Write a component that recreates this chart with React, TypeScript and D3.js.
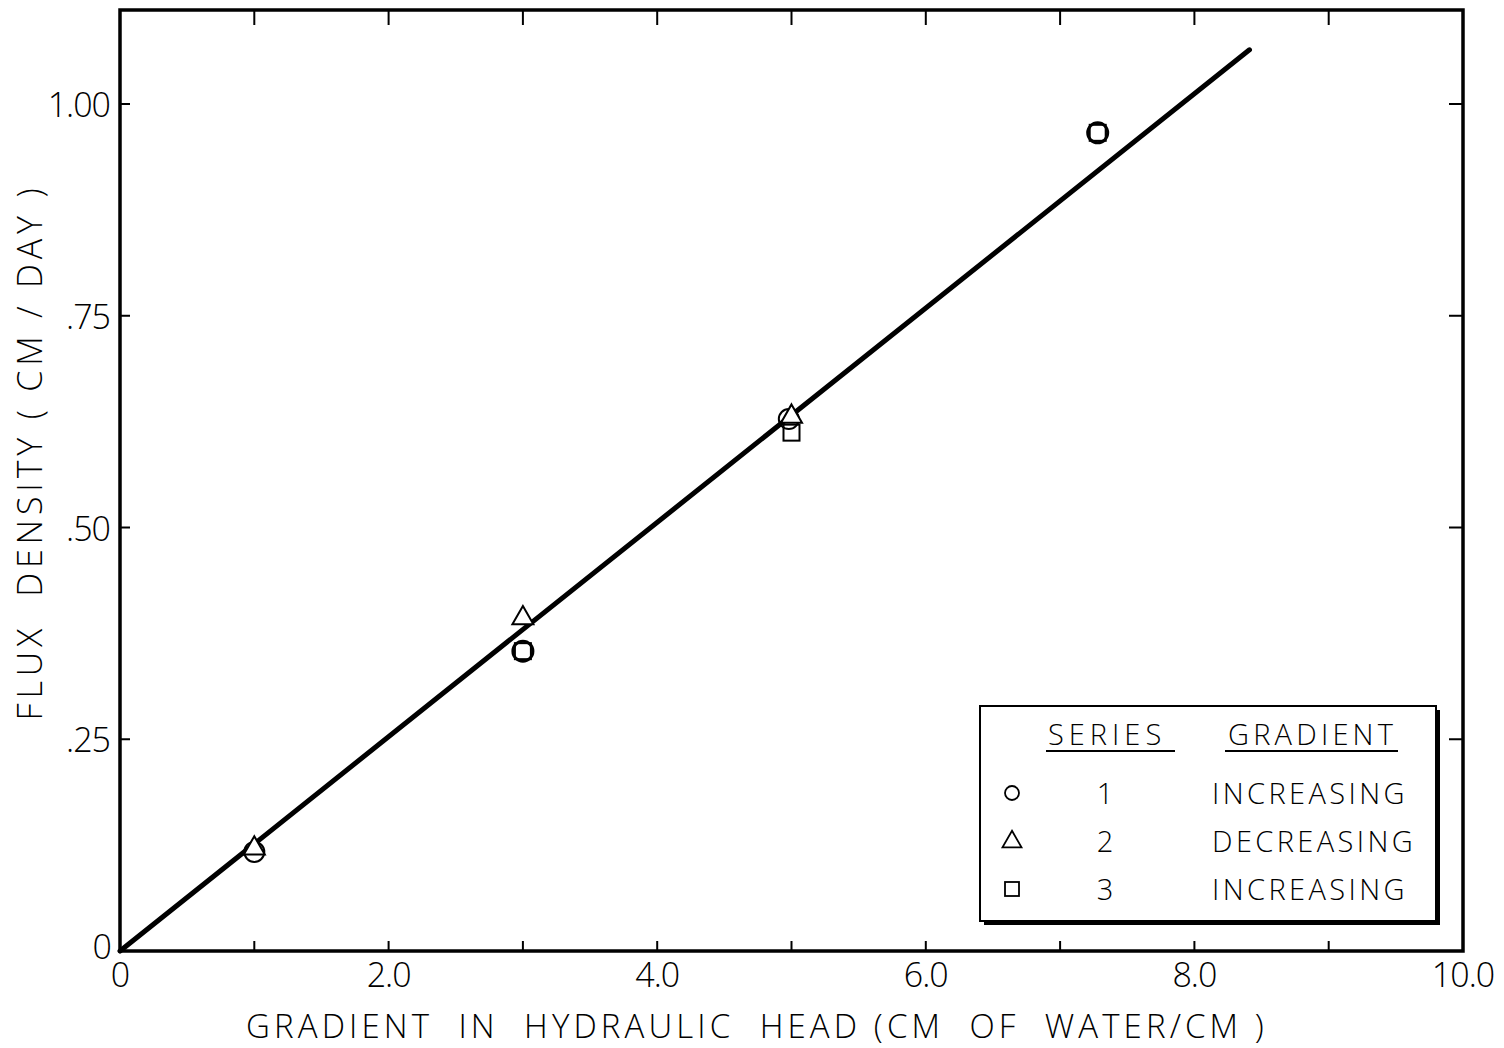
import React from "react";
import * as d3 from "d3";

const circleX = [1.0, 3.0, 4.98, 7.28];
const circleY = [0.117, 0.354, 0.628, 0.966];
const triangleX = [1.0, 3.0, 5.0];
const triangleY = [0.122, 0.394, 0.632];
const squareX = [3.0, 5.0, 7.28];
const squareY = [0.354, 0.612, 0.966];
const fitLine = [[0, 0], [8.41, 1.064]];
const xTicks = [0, 1, 2, 3, 4, 5, 6, 7, 8, 9, 10];
const xTickLabels = ["0", "2.0", "4.0", "6.0", "8.0", "10.0"];
const xLabelValues = [0, 2, 4, 6, 8, 10];
const yTicks = [0, 0.25, 0.5, 0.75, 1.0];
const yTickLabels = ["0", ".25", ".50", ".75", "1.00"];
const legendRows = [
  { sym: "circle", series: "1", grad: "INCREASING" },
  { sym: "triangle", series: "2", grad: "DECREASING" },
  { sym: "square", series: "3", grad: "INCREASING" },
];

const FONT = "'Open Sans', 'DejaVu Sans', sans-serif";
const pre = { whiteSpace: "pre" as const };
const FW = 350;

export default function App() {
  const W = 1504, H = 1048;
  const L = 120, R = 1463, T = 10, B = 951;
  const x = d3.scaleLinear().domain([0, 10]).range([L, R]);
  const y = d3.scaleLinear().domain([0, 1.111]).range([B, T]);
  const line = d3.line<number[]>().x(d => x(d[0])).y(d => y(d[1]));

  const tri = (cx: number, cy: number, s: number) => {
    const h = s * 0.87;
    return `M${cx},${cy - h * 0.62} L${cx + s / 2},${cy + h * 0.38} L${cx - s / 2},${cy + h * 0.38} Z`;
  };

  const marker = (sym: string, cx: number, cy: number, key: string, sw = 2) => {
    if (sym === "circle") return <circle key={key} cx={cx} cy={cy} r={10} fill="none" stroke="#000" strokeWidth={sw} />;
    if (sym === "square") return <rect key={key} x={cx - 8} y={cy - 8} width={16} height={16} fill="none" stroke="#000" strokeWidth={sw} />;
    return <path key={key} d={tri(cx, cy, 21)} fill="#fff" stroke="#000" strokeWidth={sw} strokeLinejoin="miter" />;
  };

  const lx = 980, ly = 706, lw = 456, lh = 215;
  return (
    <svg width={W} height={H} style={{ display: "block", position: "absolute", left: 0, top: 0, background: "#fff" }}>
      <rect x={0} y={0} width={W} height={H} fill="#fff" />
      {/* frame */}
      <rect x={L} y={T} width={R - L} height={B - T} fill="none" stroke="#000" strokeWidth={3.5} />
      {/* ticks */}
      {xTicks.map(t => (
        <g key={"xt" + t}>
          <line x1={x(t)} x2={x(t)} y1={B} y2={B - 10} stroke="#000" strokeWidth={2} />
          <line x1={x(t)} x2={x(t)} y1={T} y2={T + 15} stroke="#000" strokeWidth={2} />
        </g>
      ))}
      {yTicks.map(t => (
        <g key={"yt" + t}>
          <line x1={L} x2={L + 10} y1={y(t)} y2={y(t)} stroke="#000" strokeWidth={2} />
          <line x1={R} x2={R - 14} y1={y(t)} y2={y(t)} stroke="#000" strokeWidth={2} />
        </g>
      ))}
      {xLabelValues.map((v, i) => (
        <text key={"xl" + v} x={x(v)} y={987} textAnchor="middle" fontFamily={FONT} fontWeight={FW} fontSize={34} letterSpacing={-1}>
          {xTickLabels[i]}
        </text>
      ))}
      {yTicks.map((v, i) => (
        <text key={"yl" + v} x={i === 0 ? 111 : 110} y={y(v) + (i === 0 ? 8 : 13)} textAnchor="end" fontFamily={FONT} fontWeight={FW} fontSize={34} letterSpacing={-1}>
          {yTickLabels[i]}
        </text>
      ))}
      {/* axis titles */}
      <text x={757} y={1038} textAnchor="middle" fontFamily={FONT} fontWeight={FW} fontSize={33} letterSpacing={4.1} style={pre}>
        {"GRADIENT  IN  HYDRAULIC  HEAD (CM  OF  WATER/CM )"}
      </text>
      <text transform={`translate(42,452) rotate(-90)`} textAnchor="middle" fontFamily={FONT} fontWeight={FW} fontSize={34} letterSpacing={4.8} style={pre}>
        {"FLUX  DENSITY ( CM / DAY )"}
      </text>
      {/* fit line */}
      <path d={line(fitLine as any) || ""} fill="none" stroke="#000" strokeWidth={5} strokeLinecap="round" />
      {/* markers */}
      {circleX.map((v, i) => marker("circle", x(v), y(circleY[i]), "c" + i, i === 1 || i === 3 ? 3 : 2))}
      {squareX.map((v, i) => marker("square", x(v), y(squareY[i]), "s" + i, 2))}
      {triangleX.map((v, i) => marker("triangle", x(v), y(triangleY[i]), "t" + i, 2))}
      {/* legend */}
      <rect x={lx + 4} y={ly + 4} width={lw} height={lh} fill="#000" />
      <rect x={lx} y={ly} width={lw} height={lh} fill="#fff" stroke="#000" strokeWidth={2} />
      <text x={1048} y={745} fontFamily={FONT} fontWeight={FW} fontSize={29} letterSpacing={5}>SERIES</text>
      <line x1={1046} x2={1175} y1={751} y2={751} stroke="#000" strokeWidth={2} />
      <text x={1228} y={745} fontFamily={FONT} fontWeight={FW} fontSize={29} letterSpacing={4.2}>GRADIENT</text>
      <line x1={1225} x2={1398} y1={751} y2={751} stroke="#000" strokeWidth={2} />
      {legendRows.map((r, i) => {
        const cy = 793 + i * 48;
        return (
          <g key={"lg" + i}>
            {r.sym === "circle" && <circle cx={1012} cy={cy} r={7} fill="none" stroke="#000" strokeWidth={1.8} />}
            {r.sym === "triangle" && <path d={tri(1012, cy, 19)} fill="none" stroke="#000" strokeWidth={1.8} />}
            {r.sym === "square" && <rect x={1005} y={cy - 7} width={14} height={14} fill="none" stroke="#000" strokeWidth={1.8} />}
            <text x={1105} y={cy + 11} textAnchor="middle" fontFamily={FONT} fontWeight={FW} fontSize={29}>{r.series}</text>
            <text x={1212} y={cy + 11} fontFamily={FONT} fontWeight={FW} fontSize={29} letterSpacing={3.4}>{r.grad}</text>
          </g>
        );
      })}
    </svg>
  );
}
